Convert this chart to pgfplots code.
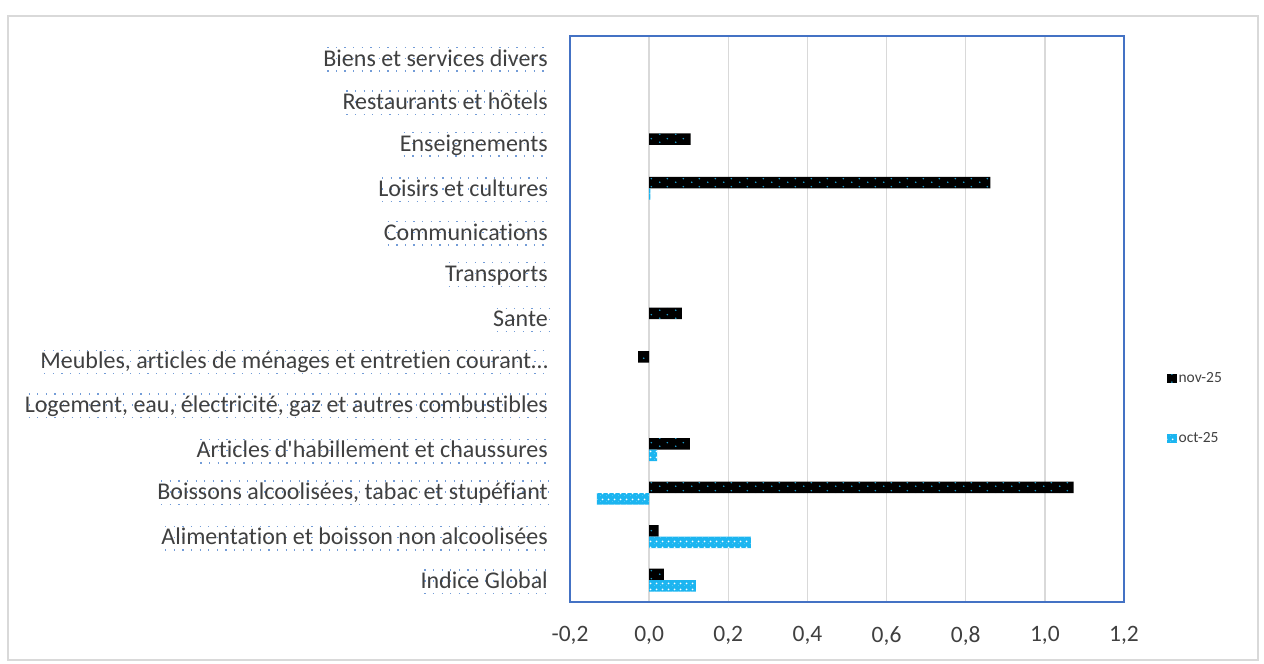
\documentclass[border=0pt]{standalone}
\usepackage{pgfplots}
\pgfplotsset{compat=1.18}
\usepackage{fontspec}
\setmainfont{Carlito}[Ligatures={NoCommon}]
\usetikzlibrary{patterns.meta}
\definecolor{gridgray}{HTML}{D9D9D9}
\definecolor{axisblue}{HTML}{4472C4}
\definecolor{labelgray}{HTML}{404040}
\definecolor{dotblue}{HTML}{1FA3D6}
\definecolor{octblue}{HTML}{1CB5F0}
\definecolor{selblue}{HTML}{5B8BD0}
\tikzdeclarepattern{name=navydots, type=uncolored,
  bounding box={(0pt,0pt) and (16pt,8pt)}, tile size={(16pt,8pt)},
  code={\fill (4pt,2pt) circle (0.9pt); \fill (12pt,6pt) circle (0.9pt);}}
\tikzdeclarepattern{name=wspeck, type=uncolored,
  bounding box={(0pt,0pt) and (6pt,6pt)}, tile size={(6pt,6pt)},
  code={\fill (3pt,3pt) circle (1.1pt); \fill (0pt,0pt) circle (0.6pt);}}
\tikzset{seldots/.style={selblue, line width=1.3pt, dash pattern=on 1.3pt off 7.3pt, opacity=0.85}}
\begin{document}
\begin{tikzpicture}
\useasboundingbox (0pt,0pt) rectangle (1264pt,-664pt);
\draw[line width=1.5pt, color=gridgray] (8pt,-16pt) rectangle (1258pt,-660pt);
\begin{axis}[
  at={(570pt,-602pt)}, anchor=south west,
  scale only axis, width=554pt, height=566pt,
  xmin=-0.2, xmax=1.2, ymin=-0.5, ymax=12.5,
  xtick={-0.2,0,0.2,0.4,0.6,0.8,1.0,1.2},
  ytick={0,1,2,3,4,5,6,7,8,9,10,11,12},
  yticklabels={Indice Global, Alimentation et boisson non alcoolisées, {Boissons alcoolisées, tabac et stupéfiant}, Articles d\textquotesingle habillement et chaussures, {Logement, eau, électricité, gaz et autres combustibles}, {Meubles, articles de ménages et entretien courant…}, Sante, Transports, Communications, Loisirs et cultures, Enseignements, Restaurants et hôtels, Biens et services divers},
  xmajorgrids,
  major grid style={color=gridgray, line width=1.5pt},
  axis line style={color=axisblue, line width=1.5pt},
  major tick length=0pt,
  tick style={draw=none},
  xticklabel style={font=\fontsize{23.5}{28}\selectfont, color=labelgray, yshift=-21pt},
  yticklabel style={font=\fontsize{24}{28}\selectfont, color=labelgray, inner sep=0pt, xshift=-22pt,
    append after command={\pgfextra{
      \draw[seldots]
      ([xshift=4pt,yshift=18.5pt]\tikzlastnode.base west) -- ([xshift=1pt,yshift=18.5pt]\tikzlastnode.base east)
      ([xshift=4pt,yshift=7.5pt]\tikzlastnode.base west) -- ([xshift=1pt,yshift=7.5pt]\tikzlastnode.base east)
      ([xshift=4pt,yshift=-5pt]\tikzlastnode.base west) -- ([xshift=1pt,yshift=-5pt]\tikzlastnode.base east);
    }}},
  /pgf/number format/.cd, use comma, fixed, fixed zerofill, precision=1, assume math mode=true,
  /pgfplots/.cd,
  xbar, bar width=11.5pt,
  legend style={at={(1.072,0.342)}, anchor=west, draw=none, fill=none,
    font=\fontsize{15.5}{18}\selectfont, text=labelgray, row sep=44pt},
  legend cell align=left,
  legend image code/.code={\fill[#1] (0pt,-4.5pt) rectangle (9.5pt,4.5pt);},
]
\addplot[draw=none, fill=black, bar shift=5.75pt,
  postaction={pattern=navydots, pattern color=dotblue}]
  coordinates {(0.037,0) (0.024,1) (1.073,2) (0.103,3) (-0.028,5) (0.083,6) (0.862,9) (0.105,10)};
\addlegendentry{nov-25}
\addplot[draw=none, fill=octblue, bar shift=-5.75pt,
  postaction={pattern=wspeck, pattern color=white}]
  coordinates {(0.118,0) (0.257,1) (-0.132,2) (0.02,3) (0.003,9)};
\addlegendentry{oct-25}
\end{axis}
\end{tikzpicture}
\end{document}
